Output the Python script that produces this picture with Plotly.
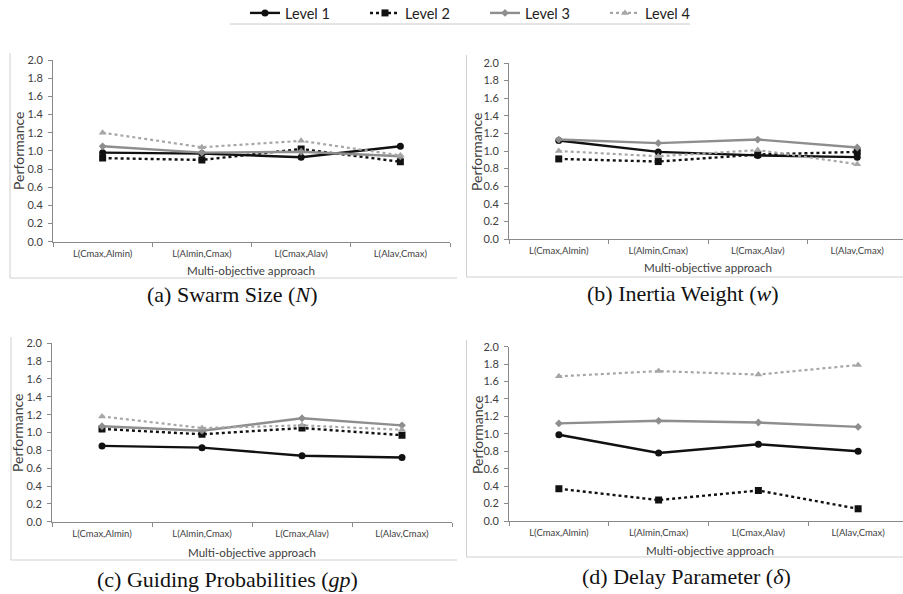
import plotly.graph_objects as go

W, H = 903, 594

categories = ["L(Cmax,Almin)", "L(Almin,Cmax)", "L(Cmax,Alav)", "L(Alav,Cmax)"]
y_ticks = [0.0, 0.2, 0.4, 0.6, 0.8, 1.0, 1.2, 1.4, 1.6, 1.8, 2.0]
level_names = ["Level 1", "Level 2", "Level 3", "Level 4"]

# (a) Swarm Size
a_level1 = [0.98, 0.97, 0.93, 1.05]
a_level2 = [0.92, 0.90, 1.02, 0.88]
a_level3 = [1.05, 0.98, 0.99, 0.94]
a_level4 = [1.20, 1.04, 1.11, 0.95]
# (b) Inertia Weight
b_level1 = [1.12, 0.99, 0.95, 0.93]
b_level2 = [0.91, 0.88, 0.96, 0.99]
b_level3 = [1.13, 1.09, 1.13, 1.04]
b_level4 = [1.00, 0.94, 1.01, 0.85]
# (c) Guiding Probabilities
c_level1 = [0.85, 0.83, 0.74, 0.72]
c_level2 = [1.04, 0.98, 1.05, 0.97]
c_level3 = [1.07, 1.02, 1.16, 1.08]
c_level4 = [1.18, 1.05, 1.08, 1.03]
# (d) Delay Parameter
d_level1 = [0.99, 0.78, 0.88, 0.80]
d_level2 = [0.37, 0.24, 0.35, 0.14]
d_level3 = [1.12, 1.15, 1.13, 1.08]
d_level4 = [1.66, 1.72, 1.68, 1.79]

captions = ["(a) Swarm Size (<i>N</i>)", "(b) Inertia Weight (<i>w</i>)",
            "(c) Guiding Probabilities (<i>gp</i>)", "(d) Delay Parameter (<i>δ</i>)"]
x_title = "Multi-objective approach"
y_title = "Performance"

styles = [
    dict(line=dict(color="#111111", width=2.4, dash="solid"),
         marker=dict(symbol="circle", size=7, color="#111111")),
    dict(line=dict(color="#111111", width=2.4, dash="dot"),
         marker=dict(symbol="square", size=7, color="#111111")),
    dict(line=dict(color="#8e8e8e", width=2.4, dash="solid"),
         marker=dict(symbol="diamond", size=6, color="#8e8e8e")),
    dict(line=dict(color="#a6a6a6", width=2.2, dash="dot"),
         marker=dict(symbol="triangle-up", size=7, color="#a6a6a6")),
]

panels = [
    dict(data=[a_level1, a_level2, a_level3, a_level4], x0=53, x1=450, ytop=60, ybot=241.7,
         box=(10, 53, 457, 278), ytitle=(18, 151), xtitle=(251, 270), cap=(232, 294)),
    dict(data=[b_level1, b_level2, b_level3, b_level4], x0=509, x1=907, ytop=63, ybot=239,
         box=(466.5, 55, 903, 277), ytitle=(477, 152), xtitle=(708, 268), cap=(683, 293)),
    dict(data=[c_level1, c_level2, c_level3, c_level4], x0=52, x1=452, ytop=343.3, ybot=521.7,
         box=(11, 337, 457, 560), ytitle=(17, 433), xtitle=(252, 552), cap=(227, 579)),
    dict(data=[d_level1, d_level2, d_level3, d_level4], x0=509, x1=908, ytop=346.7, ybot=521,
         box=(466.5, 340, 903, 557), ytitle=(477, 435), xtitle=(710, 550), cap=(686, 576)),
]

fig = go.Figure()
FONT = "Lato"
axis_col = "#8a8a8a"
border_col = "#d0d0d0"

for i, p in enumerate(panels):
    k = "" if i == 0 else str(i + 1)
    xa, ya = "x" + k, "y" + k
    for j, (vals, name) in enumerate(zip(p["data"], level_names)):
        fig.add_trace(go.Scatter(
            x=categories, y=vals, name=name, mode="lines+markers",
            xaxis=xa, yaxis=ya, showlegend=(i == 0), legendgroup=name,
            line=styles[j]["line"], marker=styles[j]["marker"]))
    width_px = p["x1"] - p["x0"]
    step = width_px / 4.0
    dom_right = min(p["x1"], W)
    rng_max = -0.5 + (dom_right - p["x0"]) / step
    fig.layout["xaxis" + k] = dict(
        domain=[p["x0"] / W, dom_right / W], anchor=ya, type="category",
        categoryorder="array", categoryarray=categories,
        range=[-0.5, rng_max], showline=True, linecolor=axis_col, linewidth=1,
        ticks="outside", ticklen=4, tickcolor=axis_col, tickson="boundaries",
        ticklabelstandoff=3, showgrid=False, zeroline=False,
        tickfont=dict(family=FONT, size=9.5, color="#404040"))
    fig.layout["yaxis" + k] = dict(
        domain=[1 - p["ybot"] / H, 1 - p["ytop"] / H], anchor=xa,
        range=[0, 2], tickvals=y_ticks, tickformat=".1f",
        showline=True, linecolor=axis_col, linewidth=1,
        ticks="outside", ticklen=4, tickcolor=axis_col, ticklabelstandoff=3,
        showgrid=False, zeroline=False,
        tickfont=dict(family=FONT, size=11, color="#404040"))
    bx0, by0, bx1, by1 = p["box"]
    fig.add_shape(type="line", xref="paper", yref="paper",
                  x0=bx0 / W, x1=bx0 / W, y0=1 - by0 / H, y1=1 - by1 / H,
                  line=dict(color=border_col, width=1))
    fig.add_shape(type="line", xref="paper", yref="paper",
                  x0=bx0 / W, x1=bx1 / W, y0=1 - by1 / H, y1=1 - by1 / H,
                  line=dict(color=border_col, width=1))
    fig.add_annotation(text=y_title, xref="paper", yref="paper",
                       x=p["ytitle"][0] / W, y=1 - p["ytitle"][1] / H,
                       textangle=-90, showarrow=False, xanchor="center", yanchor="middle",
                       font=dict(family=FONT, size=14, color="#404040"))
    fig.add_annotation(text=x_title, xref="paper", yref="paper",
                       x=p["xtitle"][0] / W, y=1 - p["xtitle"][1] / H,
                       showarrow=False, xanchor="center", yanchor="middle",
                       font=dict(family=FONT, size=11.6, color="#404040"))
    fig.add_annotation(text=captions[i], xref="paper", yref="paper",
                       x=p["cap"][0] / W, y=1 - p["cap"][1] / H,
                       showarrow=False, xanchor="center", yanchor="middle",
                       font=dict(family="Liberation Serif", size=22, color="#111111"))

# line under legend
fig.add_shape(type="line", xref="paper", yref="paper",
              x0=230 / W, x1=690 / W, y0=1 - 24 / H, y1=1 - 24 / H,
              line=dict(color="#c8c8c8", width=1))

fig.update_layout(
    width=W, height=H, margin=dict(l=0, r=0, t=0, b=0, autoexpand=False),
    paper_bgcolor="white", plot_bgcolor="white",
    legend=dict(orientation="h", x=245 / W, xanchor="left", y=1 - 13 / H, yanchor="middle",
                font=dict(family=FONT, size=14.5, color="#222222"),
                bgcolor="rgba(0,0,0,0)", entrywidth=75, entrywidthmode="pixels"),
)

fig.write_html("out.html", config={"displayModeBar": False},
               post_script="document.body.style.margin='0px';document.body.style.overflow='hidden';")
